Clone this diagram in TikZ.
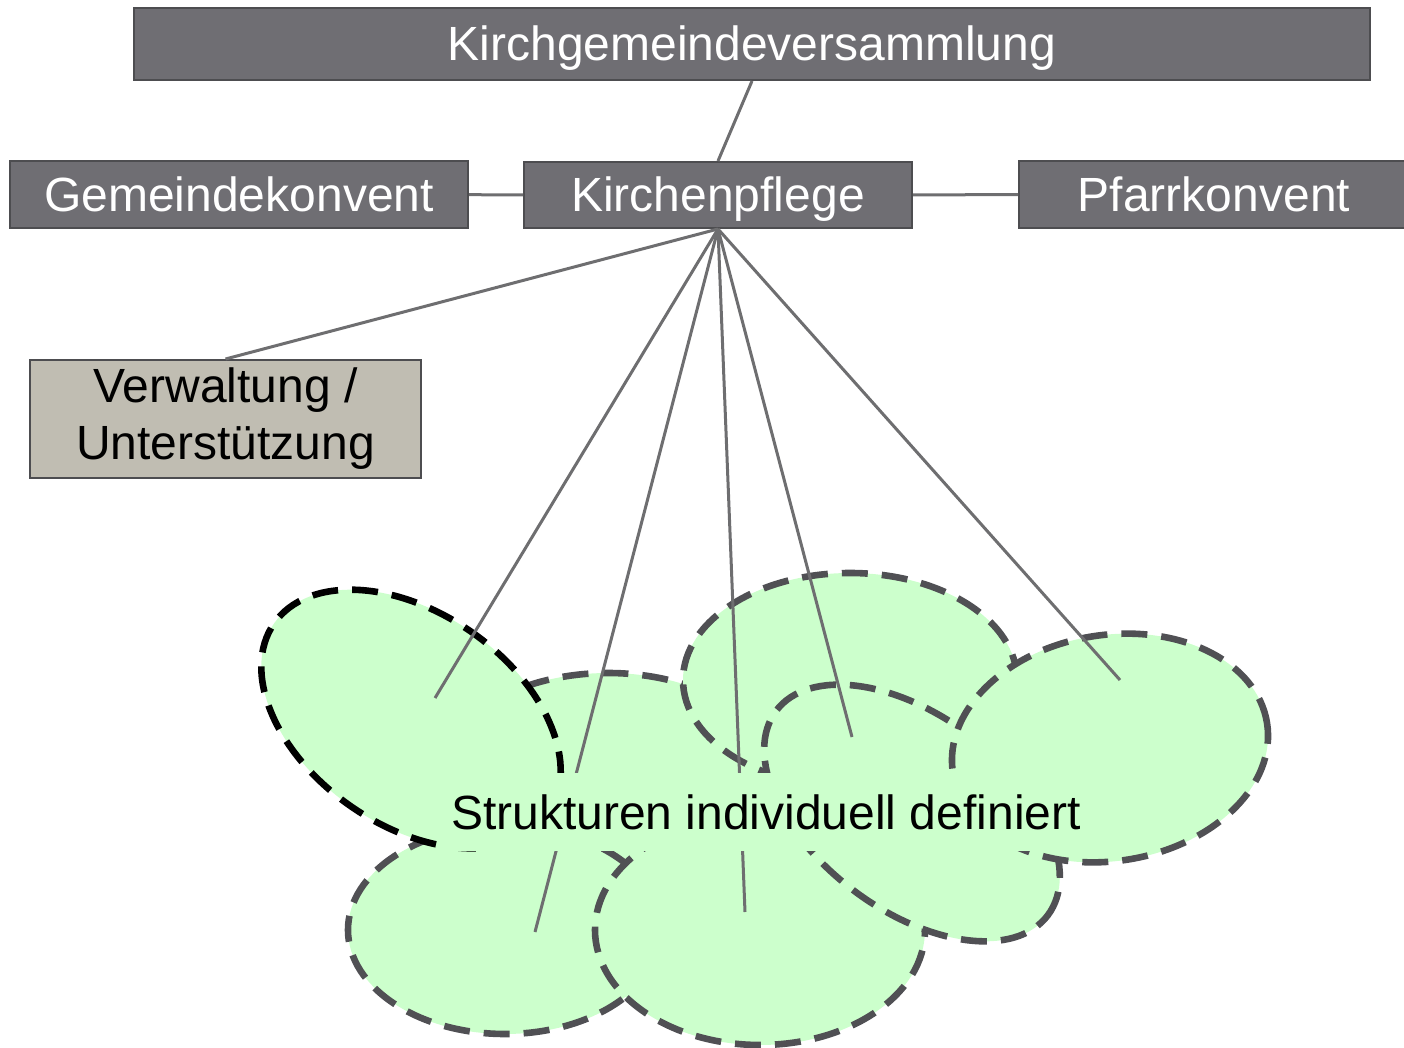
\documentclass[tikz,border=0pt]{standalone}
\usepackage{fontspec}
\setmainfont{Liberation Sans}
\usetikzlibrary{shapes.geometric}

\definecolor{boxgray}{RGB}{111,110,115}
\definecolor{boxline}{RGB}{77,77,80}
\definecolor{verwfill}{RGB}{192,189,178}
\definecolor{cloudfill}{RGB}{204,255,204}
\definecolor{cloudline}{RGB}{80,80,84}
\definecolor{linkgray}{RGB}{110,110,112}

\begin{document}
\begin{tikzpicture}[x=0.5pt, y=-0.5pt,
   orgbox/.style = {draw=boxline, line width=1pt, fill=boxgray, text=white, inner sep=0pt,
                    text height=17pt, text depth=0pt, font=\fontsize{24}{28.5}\selectfont},
   part/.style   = {ellipse, draw=cloudline, fill=cloudfill, line width=3.3pt,
                    dash pattern=on 13pt off 7pt, inner sep=0pt},
   link/.style   = {draw=linkgray, line width=1.5pt}]
\useasboundingbox (0,0) rectangle (1404,1048);
\clip (0,0) rectangle (1404,1048);

% boxes
\node[orgbox, minimum width=618pt, minimum height=36pt] (kgv) at (752,44) {Kirchgemeindeversammlung};
\node[orgbox, minimum width=229pt, minimum height=33.5pt] (gk) at (239,194.5) {Gemeindekonvent};
\node[orgbox, minimum width=194pt, minimum height=33pt] (kp) at (718,195) {Kirchenpflege};
\node[orgbox, minimum width=195pt, minimum height=33.5pt] (pk) at (1214,194.5) {Pfarrkonvent};
\node[orgbox, fill=verwfill, text=black, text height={}, text depth={}, align=center,
      minimum width=195.5pt, minimum height=59pt]
   (verw) at (225.5,419) {Verwaltung /\\Unterstützung};

% cloud of parts
\node[part, minimum width=170pt, minimum height=107pt] (center) at (608,780) {};
\node[part, minimum width=157pt, minimum height=104pt] (botleft) at (505,930) {};
\node[part, draw=black, rotate=-35, minimum width=167pt, minimum height=106pt] (topleft) at (411,719) {};
\node[part, minimum width=165pt, minimum height=115pt] (botmid) at (760,930) {};
\node[part, minimum width=167pt, minimum height=107pt] (topmid) at (850,680) {};
\node[part, rotate=-37, minimum width=170pt, minimum height=97pt] (midright) at (912,813) {};
\node[part, rotate=9, minimum width=159pt, minimum height=113pt] (right) at (1110,748) {};

\coordinate (pA) at (435,698);
\coordinate (pBL) at (535,932);
\coordinate (pBM) at (745,912);
\coordinate (pMR) at (852,737);
\coordinate (pR) at (1120,680);

% connectors
\draw[link] (kgv.south) -- (kp.north);
\draw[link] (gk) -- (kp);
\draw[link] (kp) -- (pk);
\draw[link] (kp.south) -- (verw.north);
\foreach \p in {pA,pBL,pBM,pMR,pR}
   \draw[link] (kp.south) -- (\p);

\node[fill=cloudfill, inner xsep=5pt, inner ysep=0pt, minimum height=39pt,
      font=\fontsize{24}{28.5}\selectfont] (struct) at (766,812) {Strukturen individuell definiert};

\end{tikzpicture}
\end{document}
